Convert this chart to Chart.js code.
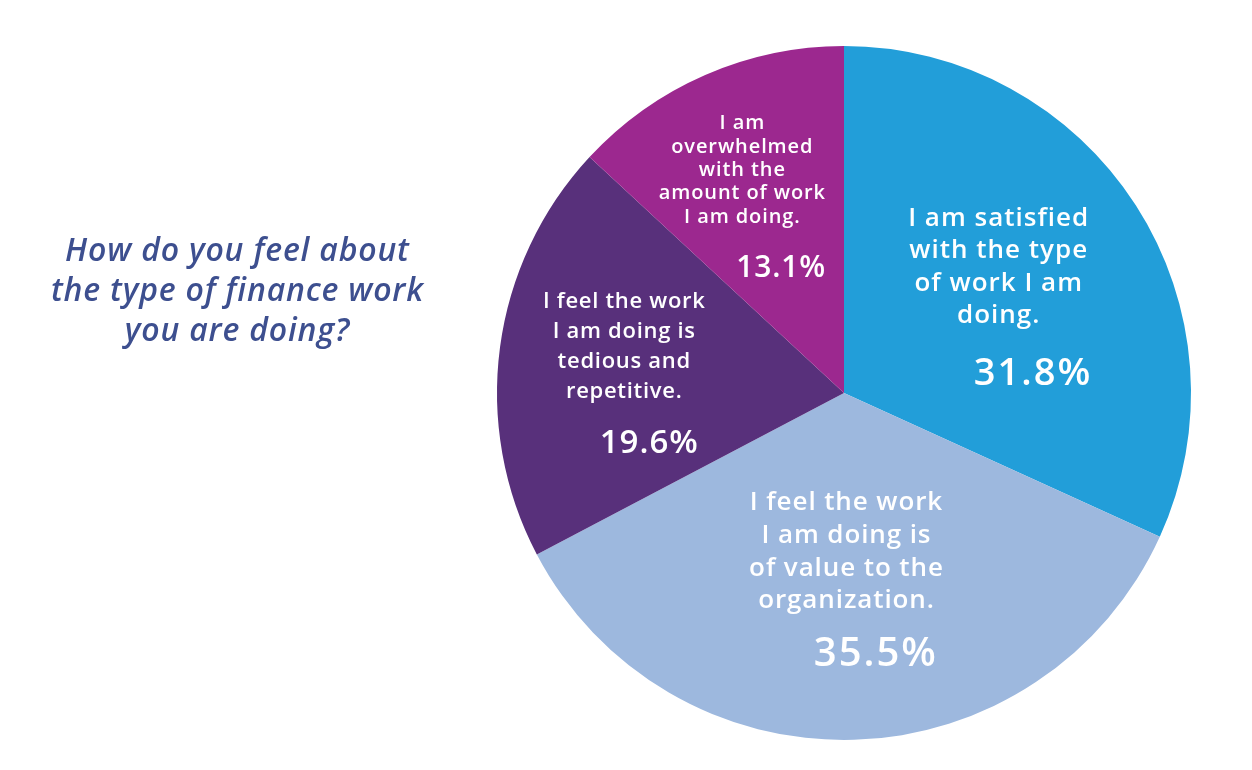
<!DOCTYPE html>
<html>
<head>
<meta charset="utf-8">
<script src="https://cdn.jsdelivr.net/npm/chart.js@4"></script>
<style>
  html, body { margin: 0; padding: 0; background: #ffffff; }
  #c { display: block; }
</style>
</head>
<body>
<canvas id="c" width="1252" height="770"></canvas>
<script>
// ---- data ----
const categories = [
  "I am satisfied with the type of work I am doing.",
  "I feel the work I am doing is of value to the organization.",
  "I feel the work I am doing is tedious and repetitive.",
  "I am overwhelmed with the amount of work I am doing."
];
const labelLines = [
  ["I am satisfied", "with the type", "of work I am", "doing."],
  ["I feel the work", "I am doing is", "of value to the", "organization."],
  ["I feel the work", "I am doing is", "tedious and", "repetitive."],
  ["I am", "overwhelmed", "with the", "amount of work", "I am doing."]
];
const values = [31.8, 35.5, 19.6, 13.1];
const titleLines = ["How do you feel about", "the type of finance work", "you are doing?"];

// ---- styles ----
const colors = ["#229ED9", "#9DB8DE", "#58307B", "#9C288F"];
const labelStyle = [
  { f: 0.525, shift: 0.6, size: 26, ls: 1.0, lh: 32.5, pct: 38, pls: 2.0, gap: 62, pdx: 2 },
  { f: 0.536, shift: 1.0, size: 26, ls: 0.9, lh: 32.6, pct: 40, pls: 2.0, gap: 58, pdx: -7 },
  { f: 0.637, shift: -2.4, size: 22, ls: 0.7, lh: 30, pct: 33, pls: 1.0, gap: 55, pdx: -7 },
  { f: 0.64, shift: -3.8, size: 20, ls: 0.9, lh: 23.3, pct: 30, pls: 0.8, gap: 54, pdx: 0 }
];
const FONT = '"Open Sans", "DejaVu Sans", sans-serif';

const sliceLabels = {
  id: 'sliceLabels',
  afterDatasetsDraw(chart) {
    const ctx = chart.ctx;
    const meta = chart.getDatasetMeta(0);
    meta.data.forEach((arc, i) => {
      const p = arc.getProps(['x', 'y', 'startAngle', 'endAngle', 'outerRadius'], true);
      const st = labelStyle[i];
      const mid = (p.startAngle + p.endAngle) / 2 + st.shift * Math.PI / 180;
      const cx = p.x + Math.cos(mid) * p.outerRadius * st.f;
      const cy = p.y + Math.sin(mid) * p.outerRadius * st.f;
      const lines = labelLines[i];
      const capH = 0.714 * st.size;
      const total = capH + (lines.length - 1) * st.lh + st.gap;
      const y = cy - total / 2 + capH;
      ctx.save();
      ctx.fillStyle = '#ffffff';
      ctx.textBaseline = 'alphabetic';
      ctx.textAlign = 'left';
      ctx.font = `600 ${st.size}px ${FONT}`;
      ctx.letterSpacing = st.ls + 'px';
      let maxW = 0;
      lines.forEach((ln, k) => {
        const w = ctx.measureText(ln).width - st.ls;
        maxW = Math.max(maxW, w);
        ctx.fillText(ln, cx - w / 2, y + k * st.lh);
      });
      const pctY = y + (lines.length - 1) * st.lh + st.gap;
      ctx.font = `600 ${st.pct}px ${FONT}`;
      ctx.letterSpacing = st.pls + 'px';
      const pct = values[i].toFixed(1) + '%';
      const pw = ctx.measureText(pct).width - st.pls;
      ctx.fillText(pct, cx + maxW / 2 + st.pdx - pw, pctY);
      ctx.restore();
    });
  }
};

const sideTitle = {
  id: 'sideTitle',
  afterDraw(chart) {
    const ctx = chart.ctx;
    ctx.save();
    ctx.fillStyle = '#3D4F8F';
    ctx.textAlign = 'left';
    ctx.textBaseline = 'alphabetic';
    ctx.font = `italic 600 32px ${FONT}`;
    ctx.letterSpacing = '0.8px';
    const baseY = 261, lh = 40;
    titleLines.forEach((t, k) => {
      const w = ctx.measureText(t).width - 0.8;
      ctx.fillText(t, 237 - w / 2, baseY + k * lh);
    });
    ctx.restore();
  }
};

new Chart(document.getElementById('c'), {
  type: 'pie',
  data: {
    labels: categories,
    datasets: [{
      data: values,
      backgroundColor: colors,
      borderWidth: 0
    }]
  },
  options: {
    responsive: false,
    devicePixelRatio: 1,
    animation: false,
    rotation: 0,
    layout: { padding: { left: 497, right: 61, top: 46, bottom: 30 } },
    plugins: {
      legend: { display: false },
      tooltip: { enabled: false },
      title: { display: false }
    }
  },
  plugins: [sliceLabels, sideTitle]
});
</script>
</body>
</html>
